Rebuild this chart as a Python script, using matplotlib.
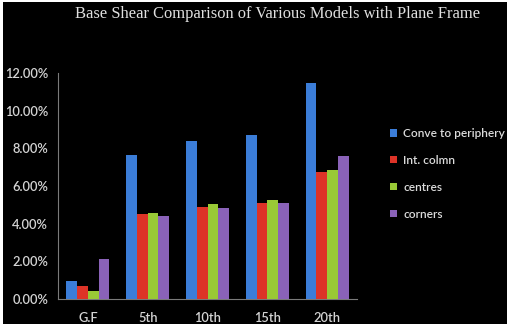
import matplotlib
matplotlib.use("Agg")
import matplotlib.pyplot as plt
import numpy as np
from matplotlib.patches import Rectangle
from matplotlib.ticker import FuncFormatter, MultipleLocator

categories = ["G.F", "5th", "10th", "15th", "20th"]
series_names = ["Conve to periphery", "Int. colmn", "centres", "corners"]
conve = [0.95, 7.65, 8.40, 8.70, 11.45]
int_colmn = [0.70, 4.50, 4.90, 5.10, 6.75]
centres = [0.45, 4.58, 5.03, 5.24, 6.83]
corners = [2.10, 4.42, 4.85, 5.10, 7.60]
colors = ["#3B7DD8", "#DD3327", "#99C936", "#8A62B8"]

W, H = 509, 332
fig = plt.figure(figsize=(W / 100, H / 100), dpi=100, facecolor="white")
fig.add_artist(Rectangle((3 / W, 1 - 324 / H), 504 / W, 322 / H,
                         transform=fig.transFigure, facecolor="black",
                         edgecolor="none", zorder=0))

ax = fig.add_axes([58 / W, 1 - 299 / H, 299 / W, 226 / H])
ax.set_facecolor("none")
ax.patch.set_alpha(0)

x = np.arange(len(categories))
bw = 0.18
all_series = [conve, int_colmn, centres, corners]
for i, (vals, c, name) in enumerate(zip(all_series, colors, series_names)):
    ax.bar(x + (i - 1.5) * bw, vals, width=bw, color=c, label=name, zorder=3)

ax.set_xlim(-0.5, len(categories) - 0.5)
ax.set_ylim(0, 12)
ax.yaxis.set_major_locator(MultipleLocator(2))
ax.yaxis.set_major_formatter(FuncFormatter(lambda v, p: f"{v:.2f}%"))
ax.set_xticks(x)
ax.set_xticklabels(categories)

for lab in ax.get_yticklabels() + ax.get_xticklabels():
    lab.set_fontfamily(["Lato", "DejaVu Sans"])
    lab.set_fontsize(9.3)
    lab.set_fontweight("semibold")
    lab.set_color("#d4d4d4")
ax.tick_params(axis="both", length=0)
ax.tick_params(axis="y", pad=7)
ax.tick_params(axis="x", pad=9)

for s in ["top", "right"]:
    ax.spines[s].set_visible(False)
for s in ["left", "bottom"]:
    ax.spines[s].set_color("#7a7a7a")
    ax.spines[s].set_linewidth(0.8)

leg = ax.legend(loc="upper left", bbox_to_anchor=(384 / W, 1 - 122 / H),
                bbox_transform=fig.transFigure, frameon=False,
                prop=dict(family=["Lato", "DejaVu Sans"], size=8.6, weight="semibold"),
                handlelength=0.6, handleheight=0.6, handletextpad=0.5,
                labelspacing=1.33, borderpad=0)
for t in leg.get_texts():
    t.set_color("#dcdcdc")

fig.text(278 / W, 1 - 14 / H, "Base Shear Comparison of Various Models with Plane Frame",
         ha="center", va="center", family=["Liberation Serif", "DejaVu Serif"],
         fontsize=11.9, color="#e0e0e0")

fig.savefig("out.png", dpi=100, facecolor="white")
